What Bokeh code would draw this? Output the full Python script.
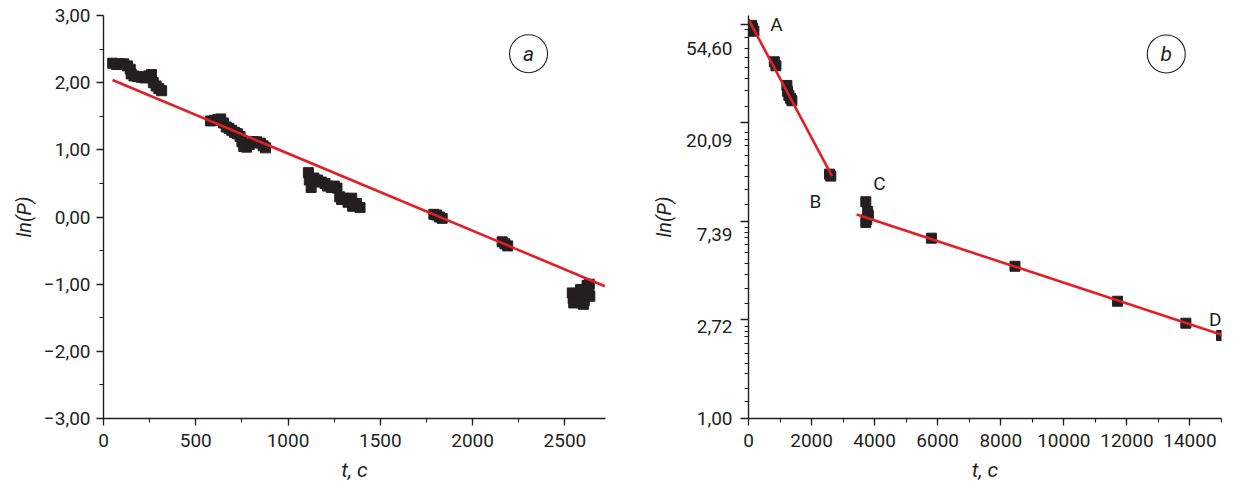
from bokeh.plotting import figure
from bokeh.layouts import row
from bokeh.models import FixedTicker, LinearAxis, Range1d, Label
from bokeh.embed import file_html
from bokeh.resources import INLINE

FONT = "Roboto"
INK = "#231f20"
RED = "#e31e24"

# ---------------- panel (a) ----------------
a_t = [50, 70, 90, 110, 130, 145, 150, 165, 185, 205, 225, 245, 260, 270, 285, 300, 315,
       580, 600, 620, 635, 650, 665, 680, 695, 710, 725, 740, 750, 760, 775, 790, 810, 830, 850, 865, 878,
       1110, 1115, 1125, 1140, 1160, 1180, 1200, 1215, 1235, 1250, 1265, 1280, 1290, 1305, 1325, 1345, 1350, 1370, 1390,
       1790, 1805, 1820, 1835,
       2160, 2175, 2190,
       2540, 2545, 2548, 2565, 2585, 2590, 2600, 2605, 2620, 2630, 2635, 2632]
a_lnP = [2.29, 2.27, 2.28, 2.28, 2.25, 2.20, 2.13, 2.10, 2.09, 2.08, 2.07, 2.10, 2.12, 2.00, 1.95, 1.91, 1.88,
         1.43, 1.44, 1.45, 1.46, 1.40, 1.34, 1.32, 1.29, 1.26, 1.24, 1.20, 1.12, 1.05, 1.04, 1.08, 1.12, 1.12, 1.10, 1.06, 1.03,
         0.66, 0.55, 0.44, 0.58, 0.55, 0.52, 0.50, 0.46, 0.44, 0.46, 0.43, 0.30, 0.26, 0.28, 0.22, 0.28, 0.16, 0.20, 0.14,
         0.04, 0.03, 0.00, -0.02,
         -0.37, -0.40, -0.43,
         -1.13, -1.22, -1.28, -1.15, -1.08, -1.18, -1.30, -1.25, -1.02, -1.10, -1.18, -1.00]
a_fit_t = [49, 2717]
a_fit_lnP = [2.04, -1.03]

a_x_ticks = [0, 500, 1000, 1500, 2000, 2500]
a_x_labels = ["0", "500", "1000", "1500", "2000", "2500"]
a_y_ticks = [-3, -2, -1, 0, 1, 2, 3]
a_y_labels = ["\u22123,00", "\u22122,00", "\u22121,00", "0,00", "1,00", "2,00", "3,00"]

# ---------------- panel (b) ----------------
b_t = [100, 130, 170,
       820, 870,
       1217, 1240, 1280, 1330, 1376,
       2570, 2610,
       3720, 3780, 3800, 3750, 3720,
       5800, 8450, 11700, 13870, 15000]
b_lnP = [3.99, 3.96, 3.93,
         3.62, 3.58,
         3.38, 3.32, 3.28, 3.25, 3.225,
         2.48, 2.46,
         2.20, 2.10, 2.06, 2.02, 1.99,
         1.83, 1.545, 1.19, 0.967, 0.842]
b_fit1_t = [0, 2650]
b_fit1_lnP = [4.05, 2.46]
b_fit2_t = [3430, 15200]
b_fit2_lnP = [2.07, 0.83]

b_x_ticks = [0, 2000, 4000, 6000, 8000, 10000, 12000, 14000]
b_x_labels = ["0", "2000", "4000", "6000", "8000", "10000", "12000", "14000"]
b_y_ticks = [0, 1, 2, 3, 4]
b_y_labels = ["1,00", "2,72", "7,39", "20,09", "54,60"]
b_point_names = ["A", "B", "C", "D"]
b_point_t = [890, 2120, 4150, 15000]
b_point_lnP = [4.0, 2.2, 2.39, 1.0]
b_point_align = ["center", "center", "center", "right"]


def style_axis(ax, major_out=7, minor_out=4):
    ax.axis_line_color = INK
    ax.axis_line_width = 1.4
    ax.major_tick_line_color = INK
    ax.major_tick_line_width = 1.3
    ax.minor_tick_line_color = INK
    ax.minor_tick_line_width = 1.1
    ax.major_tick_out = major_out
    ax.major_tick_in = 0
    ax.minor_tick_out = minor_out
    ax.minor_tick_in = 0
    ax.major_label_text_font = FONT
    ax.major_label_text_font_size = "19px"
    ax.major_label_text_color = INK
    ax.axis_label_text_font = FONT
    ax.axis_label_text_font_size = "20px"
    ax.axis_label_text_font_style = "italic"
    ax.axis_label_text_color = INK


def base_fig(width, xr, yr, left, right):
    p = figure(width=width, height=488, x_range=xr, y_range=yr,
               output_backend="svg", toolbar_location=None,
               min_border_left=left, min_border_right=right,
               min_border_top=15, min_border_bottom=70)
    p.xgrid.visible = False
    p.ygrid.visible = False
    p.outline_line_color = None
    p.background_fill_color = "white"
    p.border_fill_color = "white"
    return p


def panel_tag(p, x, y, letter):
    p.scatter([x], [y], marker="circle", size=38, fill_color=None,
              line_color=INK, line_width=1.1)
    p.add_layout(Label(x=x, y=y, text=letter, text_font=FONT, text_font_size="21px",
                       text_font_style="italic", text_color=INK,
                       text_align="center", text_baseline="middle"))


def x_label(ax):
    ax.axis_label = "t, c"
    ax.axis_label_text_font_size = "21px"
    ax.axis_label_standoff = 8
    ax.major_label_standoff = 8


# ---- figure a ----
p1 = base_fig(628, Range1d(0, 2720), Range1d(-3, 3), 103, 23)
style_axis(p1.xaxis[0])
style_axis(p1.yaxis[0])
p1.xaxis[0].ticker = FixedTicker(ticks=a_x_ticks, minor_ticks=list(range(0, 2720, 250)))
p1.xaxis[0].major_label_overrides = dict(zip(a_x_ticks, a_x_labels))
x_label(p1.xaxis[0])
p1.yaxis[0].ticker = FixedTicker(ticks=a_y_ticks, minor_ticks=[-2.5, -1.5, -0.5, 0.5, 1.5, 2.5])
p1.yaxis[0].major_label_overrides = dict(zip(a_y_ticks, a_y_labels))
p1.yaxis[0].major_label_standoff = 6
p1.yaxis[0].axis_label = "ln(P)"
p1.yaxis[0].axis_label_standoff = 5

p1.scatter(a_t, a_lnP, marker="square", size=10, color=INK)
p1.line(a_fit_t, a_fit_lnP, color=RED, line_width=2.6)
panel_tag(p1, 2303, 2.43, "a")

# ---- figure b ----
p2 = base_fig(614, Range1d(0, 15000), Range1d(0, 4.09), 120, 21)
style_axis(p2.xaxis[0])
p2.xaxis[0].ticker = FixedTicker(ticks=b_x_ticks, minor_ticks=list(range(0, 15001, 1000)))
p2.xaxis[0].major_label_overrides = dict(zip(b_x_ticks, b_x_labels))
x_label(p2.xaxis[0])

# inner axis: ticks only (ln scale, minor ticks log-spaced)
b_minor = [3.945, 3.864, 3.752, 3.660, 3.564, 3.446, 3.327, 3.164,
           2.902, 2.835, 2.767, 2.665, 2.563, 2.451, 2.326, 2.173,
           1.942, 1.884, 1.833, 1.766, 1.680, 1.578, 1.460, 1.324, 1.171,
           0.934, 0.883, 0.832, 0.764, 0.662, 0.560, 0.460, 0.305, 0.170]
yin = p2.yaxis[0]
style_axis(yin, major_out=8, minor_out=4)
yin.ticker = FixedTicker(ticks=b_y_ticks, minor_ticks=b_minor)
yin.major_label_text_font_size = "0px"
yin.major_label_overrides = {k: "" for k in b_y_ticks}
yin.major_label_standoff = 0

# outer axis: labels only (placed as in the reference)
b_label_pos = [0.0, 0.934, 1.871, 2.818, 3.755]
yout = LinearAxis()
style_axis(yout)
yout.axis_line_color = None
yout.major_tick_line_color = None
yout.minor_tick_line_color = None
yout.major_tick_out = 0
yout.minor_tick_out = 0
yout.ticker = FixedTicker(ticks=b_label_pos, minor_ticks=[])
yout.major_label_overrides = dict(zip(b_label_pos, b_y_labels))
yout.major_label_standoff = 8
yout.axis_label = "ln(P)"
yout.axis_label_standoff = 7
p2.add_layout(yout, "left")

p2.scatter(b_t, b_lnP, marker="square", size=10, color=INK)
p2.line(b_fit1_t, b_fit1_lnP, color=RED, line_width=2.6)
p2.line(b_fit2_t, b_fit2_lnP, color=RED, line_width=2.6)
for name, tx, ly, al in zip(b_point_names, b_point_t, b_point_lnP, b_point_align):
    p2.add_layout(Label(x=tx, y=ly, text=name, text_font=FONT, text_font_size="19px",
                        text_color=INK, text_align=al, text_baseline="middle"))
panel_tag(p2, 13249, 3.70, "b")

layout = row(p1, p2)
open("out.html", "w").write(file_html(layout, INLINE))
